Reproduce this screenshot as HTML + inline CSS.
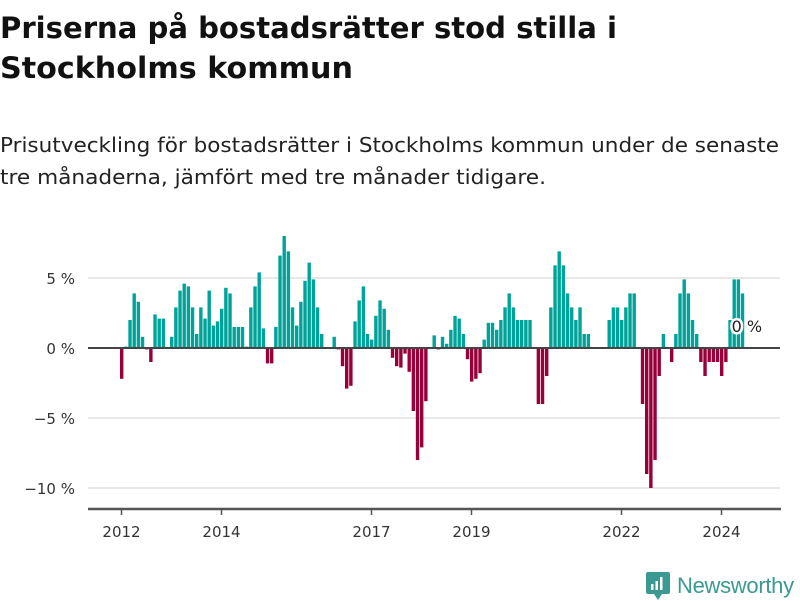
<!DOCTYPE html>
<html><head><meta charset="utf-8">
<style>
body{margin:0;background:#fff;width:800px;height:600px;overflow:hidden;font-family:"DejaVu Sans","Liberation Sans",sans-serif;}
svg{position:absolute;left:0;top:0}
</style></head><body>
<svg id="chart" width="800" height="600">
<text x="0" y="38" font-size="29" font-weight="bold" fill="#111" textLength="617" lengthAdjust="spacingAndGlyphs">Priserna på bostadsrätter stod stilla i</text>
<text x="0" y="78" font-size="29" font-weight="bold" fill="#111" textLength="353" lengthAdjust="spacingAndGlyphs">Stockholms kommun</text>
<text x="0" y="152" font-size="20" fill="#222" textLength="779" lengthAdjust="spacingAndGlyphs">Prisutveckling för bostadsrätter i Stockholms kommun under de senaste</text>
<text x="0" y="184" font-size="20" fill="#222" textLength="546" lengthAdjust="spacingAndGlyphs">tre månaderna, jämfört med tre månader tidigare.</text>
</svg>
<script>
const startYear = 2012;
const values = [-2.2,0.1,2.0,3.9,3.3,0.8,-0.1,-1.0,2.4,2.1,2.1,0,0.8,2.9,4.1,4.6,4.4,2.9,1.0,2.9,2.1,4.1,1.6,1.9,2.8,4.3,3.9,1.5,1.5,1.5,0.1,2.9,4.4,5.4,1.4,-1.1,-1.1,
1.5,6.6,8.0,6.9,2.9,1.6,3.3,4.8,6.1,4.9,2.9,1.0,0,0,0.8,-0.1,-1.3,-2.9,-2.7,1.9,3.4,4.4,1.0,0.6,2.3,3.4,2.8,1.3,-0.7,-1.3,-1.4,-0.4,-1.7,-4.5,-8.0,-7.1,-3.8,0,0.9,-0.1,
0.8,0.3,1.3,2.3,2.1,1.0,-0.8,-2.4,-2.2,-1.8,0.6,1.8,1.8,1.3,2.0,2.9,3.9,2.9,2.0,2.0,2.0,2.0,0,-4.0,-4.0,-2.0,2.9,5.9,6.9,5.9,3.9,2.9,2.0,2.9,1.0,1.0,
0,0,0,0,2.0,2.9,2.9,2.0,2.9,3.9,3.9,0,-4.0,-9.0,-10.0,-8.0,-2.0,1.0,0,-1.0,1.0,3.9,4.9,3.9,2.0,1.0,-1.0,-2.0,-1.0,-1.0,-1.0,-2.0,-1.0,2.0,4.9,4.9,3.9];
const yTicks = [5,0,-5,-10];
const xTickYears = [2012,2014,2017,2019,2022,2024];
const lastLabel = "0 %";

const NS="http://www.w3.org/2000/svg";
const svg=document.getElementById('chart');
function xs(yearFrac){return 120+(yearFrac-startYear)*50;}
function ys(v){return 348-v*14;}
function mk(tag,attrs){const e=document.createElementNS(NS,tag);for(const k in attrs)e.setAttribute(k,attrs[k]);svg.appendChild(e);return e;}

yTicks.forEach(t=>{
  if(t!==0){const g=mk('line',{x1:88,x2:780,y1:ys(t),y2:ys(t),stroke:'#e0e0e0','stroke-width':1.5});
  
  }
  const l=mk('text',{x:75,y:ys(t)+6,'text-anchor':'end','font-size':15,fill:'#333'});
  l.textContent=(t<0?'\u2212':'')+Math.abs(t)+' %';
  
  
});
values.forEach((v,i)=>{
  if(v===0)return;
  const x=xs(startYear+i/12);
  const y0=ys(0),y1=ys(v);
  const r=mk('rect',{x:x,y:Math.min(y0,y1),width:3.4,height:Math.abs(y1-y0),fill:v>0?'#00a39a':'#98003a'});
  
  
});
const zl=mk('line',{x1:88,x2:780,y1:ys(0),y2:ys(0),stroke:'#444','stroke-width':2});


const ax=mk('line',{x1:88,x2:781,y1:509,y2:509,stroke:'#555','stroke-width':2.5});


xTickYears.forEach(yr=>{
  const x=xs(yr)+1.5;
  const tk=mk('line',{x1:x,x2:x,y1:509,y2:515,stroke:'#555','stroke-width':1.5});
  
  
  const t=mk('text',{x:x,y:537,'text-anchor':'middle','font-size':15,fill:'#333'});
  t.textContent=yr;
  
  
});
const lx=xs(startYear+(values.length-1)/12)+6, ly=332;
const halo=mk('text',{x:lx,y:ly,'text-anchor':'middle','font-size':16,fill:'#fff',stroke:'#fff','stroke-width':5});
halo.textContent=lastLabel;


const lab=mk('text',{x:lx,y:ly,'text-anchor':'middle','font-size':16,fill:'#222'});
lab.textContent=lastLabel;


</script>
<div style="position:absolute;left:646px;top:571px;height:30px;display:flex;align-items:center">
  <svg width="24" height="28" style="position:static"><rect x="0" y="0" width="24" height="22" rx="2" fill="#3a9a92"/><polygon points="8,22 16,22 12,28" fill="#3a9a92"/><rect x="5" y="12" width="2.5" height="6" fill="#fff"/><rect x="9.5" y="9" width="2.5" height="9" fill="#fff"/><rect x="14" y="5" width="2.5" height="13" fill="#fff"/></svg>
  <span style="font-family:'Liberation Sans',sans-serif;font-size:22px;color:#3a9a92;margin-left:7px;letter-spacing:-0.3px">Newsworthy</span>
</div>
</body></html>
